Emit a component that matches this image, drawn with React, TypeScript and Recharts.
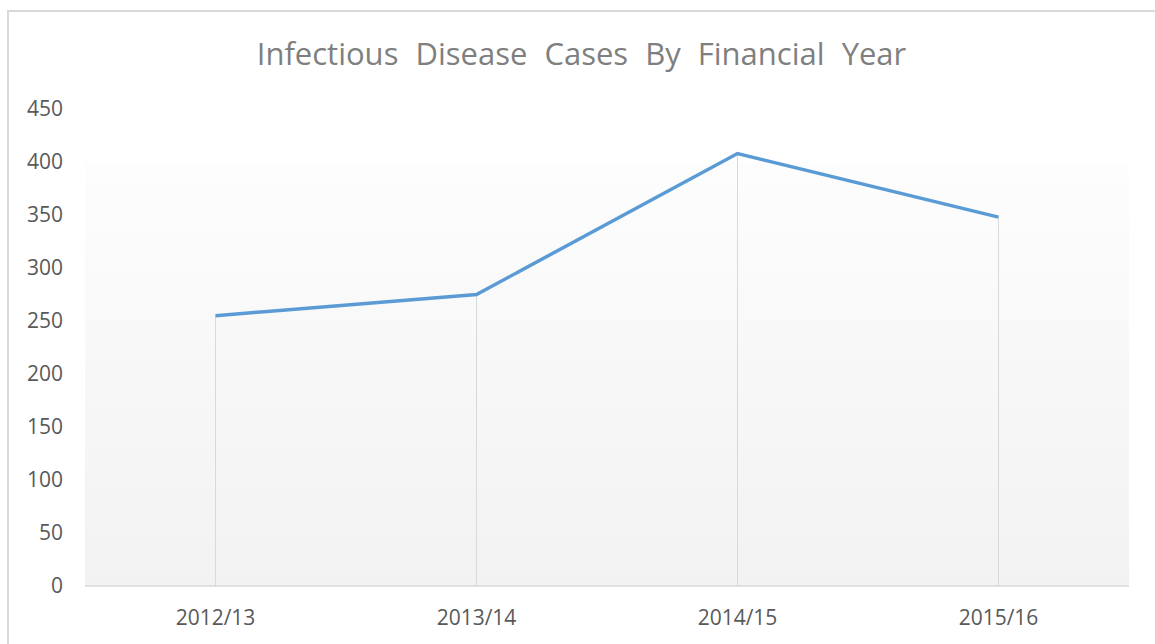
import { Line, Bar, XAxis, YAxis, ReferenceArea, ComposedChart } from "recharts";

const years = ["2012/13", "2013/14", "2014/15", "2015/16"];
const cases = [255, 275, 408, 348];
const yTicks = [0, 50, 100, 150, 200, 250, 300, 350, 400, 450];

const data = years.map((year, i) => ({ year, cases: cases[i] }));

const font = "'Open Sans', 'Noto Sans', sans-serif";

const App = () => {
  return (
    <div
      style={{
        position: "fixed",
        top: 10,
        left: 7,
        width: 1148,
        height: 634,
        borderTop: "2px solid #d9d9d9",
        borderLeft: "2px solid #d9d9d9",
        boxSizing: "border-box",
        background: "#fff",
        overflow: "hidden",
      }}
    >
      <div
        style={{
          position: "absolute",
          top: 20,
          left: -1,
          width: 1147,
          textAlign: "center",
          fontFamily: font,
          fontSize: 31,
          color: "#7f7f7f",
          wordSpacing: 9,
          whiteSpace: "nowrap",
        }}
      >
        Infectious Disease Cases By Financial Year
      </div>
      <div style={{ position: "absolute", left: -1, top: -4 }}>
        <ComposedChart
          width={1140}
          height={636}
          data={data}
          margin={{ top: 101, right: 19, left: 0, bottom: 0 }}
        >
          <defs>
            <linearGradient id="plotBg" x1="0" y1="0" x2="0" y2="1">
              <stop offset="0%" stopColor="#fdfdfd" />
              <stop offset="100%" stopColor="#f2f2f2" />
            </linearGradient>
          </defs>
          <ReferenceArea
            y1={0}
            y2={400}
            fill="url(#plotBg)"
            fillOpacity={1}
            stroke="none"
          />
          <XAxis
            dataKey="year"
            height={58}
            axisLine={{ stroke: "#d9d9d9", strokeWidth: 1.5 }}
            tickLine={false}
            tickSize={0}
            tickMargin={24}
            tick={{ fill: "#595959", fontSize: 21, fontFamily: font }}
          />
          <YAxis
            width={77}
            domain={[0, 450]}
            ticks={yTicks}
            axisLine={false}
            tickLine={false}
            tickSize={0}
            tickMargin={22}
            tick={{ fill: "#595959", fontSize: 21, fontFamily: font }}
          />
          <Bar
            dataKey="cases"
            barSize={1}
            fill="#d9d9d9"
            isAnimationActive={false}
          />
          <Line
            dataKey="cases"
            type="linear"
            stroke="#5b9bd5"
            strokeWidth={3.5}
            dot={false}
            isAnimationActive={false}
          />
        </ComposedChart>
      </div>
    </div>
  );
};

export default App;
